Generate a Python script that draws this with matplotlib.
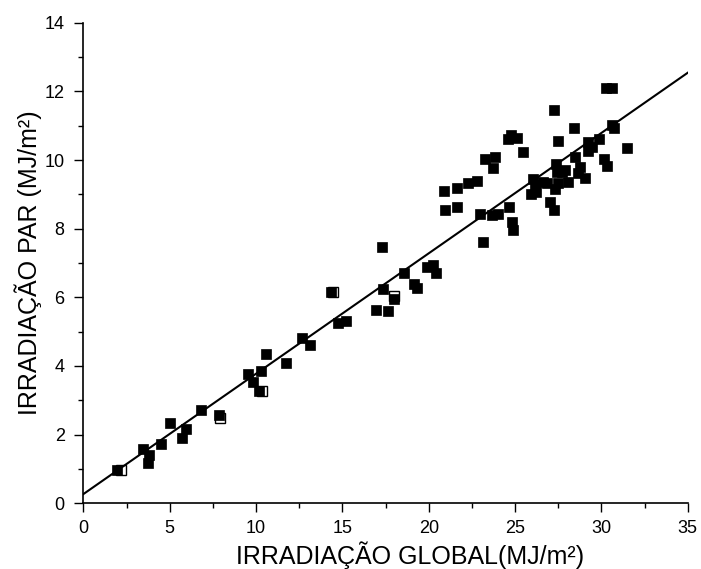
import matplotlib
matplotlib.use("Agg")
import matplotlib.pyplot as plt
from matplotlib.ticker import MultipleLocator

plt.rcParams['font.family'] = ['Liberation Sans', 'DejaVu Sans']

# Filled-square series (global irradiation vs PAR irradiation, MJ/m²)
x_filled = [1.92, 3.47, 3.78, 3.71, 4.49, 5.01, 5.73, 5.92, 6.81, 7.87,
            9.55, 9.80, 10.17, 10.28, 10.55, 11.71, 12.66, 13.12, 14.31, 14.73,
            15.19, 16.94, 17.30, 17.35, 17.66, 17.99, 18.57, 19.15, 19.34, 19.88,
            20.27, 20.41, 20.89, 20.92, 21.66, 21.66, 22.29, 22.78, 22.97, 23.16,
            23.24, 23.65, 23.71, 23.84, 24.03, 24.61, 24.67, 24.75, 24.81, 24.87,
            25.10, 25.48, 25.94, 26.06, 26.16, 26.22, 26.64, 26.84, 27.03, 27.24,
            27.26, 27.32, 27.38, 27.45, 27.51, 27.51, 27.71, 27.90, 28.09, 28.40,
            28.50, 28.67, 28.77, 29.06, 29.25, 29.25, 29.44, 29.87, 30.14, 30.31,
            30.25, 30.64, 30.62, 30.74, 31.47]
y_filled = [0.96, 1.59, 1.41, 1.17, 1.73, 2.34, 1.89, 2.16, 2.71, 2.57,
            3.77, 3.52, 3.27, 3.86, 4.34, 4.08, 4.82, 4.61, 6.15, 5.26,
            5.32, 5.62, 7.46, 6.25, 5.61, 5.95, 6.70, 6.39, 6.26, 6.87,
            6.94, 6.70, 9.10, 8.54, 9.18, 8.62, 9.32, 9.40, 8.43, 7.62,
            10.02, 8.40, 9.76, 10.10, 8.43, 10.61, 8.63, 10.73, 8.20, 7.96,
            10.63, 10.23, 9.00, 9.44, 9.27, 9.08, 9.37, 9.34, 8.78, 11.46,
            8.54, 9.16, 9.89, 9.66, 9.32, 10.56, 9.66, 9.71, 9.35, 10.94,
            10.09, 9.63, 9.80, 9.47, 10.53, 10.27, 10.37, 10.61, 10.02, 9.84,
            12.09, 12.09, 11.02, 10.92, 10.36]

# Open-square series (mostly hidden behind filled squares)
x_open = [2.15, 7.90, 10.35, 14.45, 17.99]
y_open = [0.96, 2.47, 3.27, 6.15, 6.04]

# Fitted line
line_x = [0, 35]
line_intercept = 0.27
line_slope = 0.3506

fig = plt.figure(figsize=(7.01, 5.69), dpi=100)
ax = fig.add_axes([0.1191, 0.1155, 0.8619, 0.8446])

ax.plot(x_open, y_open, linestyle='none', marker='s', markersize=7,
        markerfacecolor='white', markeredgecolor='black', markeredgewidth=1.0, zorder=2)
ax.plot(x_filled, y_filled, linestyle='none', marker='s', markersize=7,
        markerfacecolor='black', markeredgecolor='black', markeredgewidth=0.5, zorder=3)
ax.plot(line_x, [line_intercept + line_slope * v for v in line_x],
        color='black', linewidth=1.5, zorder=4)

ax.set_xlim(0, 35)
ax.set_ylim(0, 14)
ax.xaxis.set_major_locator(MultipleLocator(5))
ax.xaxis.set_minor_locator(MultipleLocator(2.5))
ax.yaxis.set_major_locator(MultipleLocator(2))
ax.yaxis.set_minor_locator(MultipleLocator(1))

for s in ['top', 'right']:
    ax.spines[s].set_visible(False)
for s in ['left', 'bottom']:
    ax.spines[s].set_linewidth(1.2)
    ax.spines[s].set_clip_on(False)

ax.tick_params(which='major', direction='out', length=6.5, width=1.0,
               labelsize=13, color='black', labelcolor='black')
ax.tick_params(axis='x', which='major', pad=5.5)
ax.tick_params(axis='y', which='major', pad=7)
ax.tick_params(which='minor', direction='out', length=3.5, width=1.0, color='black')

ax.set_xlabel('IRRADIAÇÃO GLOBAL(MJ/m²)', fontsize=18)
ax.set_ylabel('IRRADIAÇÃO PAR (MJ/m²)', fontsize=18)
ax.xaxis.set_label_coords(0.54, -0.108, transform=ax.transAxes)
ax.xaxis.label.set_va('center')
ax.yaxis.set_label_coords(-0.092, 0.5, transform=ax.transAxes)
ax.yaxis.label.set_va('center')

fig.savefig('out.png', dpi=100)
